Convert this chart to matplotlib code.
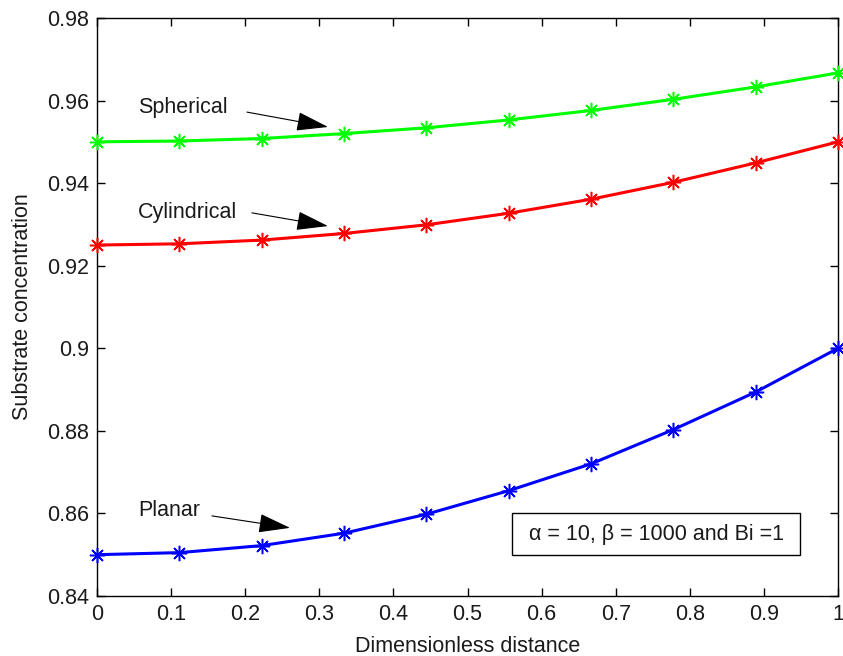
import matplotlib.pyplot as plt
import numpy as np

plt.rcParams['font.family'] = ['Liberation Sans', 'DejaVu Sans']

# data
x = [0, 1/9, 2/9, 3/9, 4/9, 5/9, 6/9, 7/9, 8/9, 1]
spherical = [0.9500, 0.9502, 0.9508, 0.9520, 0.9534, 0.9553, 0.9576, 0.9603, 0.9633, 0.9667]
cylindrical = [0.9250, 0.9253, 0.9262, 0.9278, 0.9299, 0.9327, 0.9361, 0.9402, 0.9449, 0.9500]
planar = [0.8500, 0.8505, 0.8522, 0.8552, 0.8598, 0.8655, 0.8720, 0.8803, 0.8894, 0.9000]

xticks = [0, 0.1, 0.2, 0.3, 0.4, 0.5, 0.6, 0.7, 0.8, 0.9, 1]
xticklabels = ['0', '0.1', '0.2', '0.3', '0.4', '0.5', '0.6', '0.7', '0.8', '0.9', '1']
yticks = [0.84, 0.86, 0.88, 0.9, 0.92, 0.94, 0.96, 0.98]
yticklabels = ['0.84', '0.86', '0.88', '0.9', '0.92', '0.94', '0.96', '0.98']

FS = 15.5
TXT = '#1a1a1a'

fig = plt.figure(figsize=(8.43, 6.56), dpi=100)
ax = fig.add_axes([0.1151, 0.0915, 0.8790, 0.8811])

for y, c in [(spherical, '#00ff00'), (cylindrical, '#ff0000'), (planar, '#0000ff')]:
    ax.plot(x, y, color=c, lw=2.2, marker=(8, 2, 0), markersize=11,
            markeredgewidth=1.1, clip_on=False, zorder=3)

ax.set_xlim(0, 1)
ax.set_ylim(0.84, 0.98)
ax.set_xticks(xticks)
ax.set_xticklabels(xticklabels)
ax.set_yticks(yticks)
ax.set_yticklabels(yticklabels)
ax.tick_params(direction='in', length=6, width=1, top=True, right=True,
               labelsize=FS, pad=6, labelcolor=TXT)
for s in ax.spines.values():
    s.set_linewidth(1)

ax.set_xlabel('Dimensionless distance', fontsize=FS, labelpad=8, color=TXT)
ax.set_ylabel('Substrate concentration', fontsize=FS, labelpad=10, color=TXT)

arrow = dict(arrowstyle='-|>,head_length=1.0,head_width=0.3', color='black',
             lw=0.8, mutation_scale=20, shrinkA=0, shrinkB=0)
ax.text(0.0553, 0.9584, 'Spherical', fontsize=FS, va='center', ha='left', color=TXT)
ax.annotate('', xy=(0.3117, 0.9536), xytext=(0.2024, 0.9572), arrowprops=arrow)
ax.text(0.0553, 0.9328, 'Cylindrical', fontsize=FS, va='center', ha='left', color=TXT)
ax.annotate('', xy=(0.3117, 0.9296), xytext=(0.209, 0.9328), arrowprops=arrow)
ax.text(0.0553, 0.8606, 'Planar', fontsize=FS, va='center', ha='left', color=TXT)
ax.annotate('', xy=(0.2605, 0.8565), xytext=(0.155, 0.8594), arrowprops=arrow)

ax.text(0.7544, 0.855, ' α = 10, β = 1000 and Bi =1 ', fontsize=FS,
        ha='center', va='center', color=TXT,
        bbox=dict(boxstyle='square,pad=0.5', fc='white', ec='black', lw=1))

fig.savefig('out.png', dpi=100)
